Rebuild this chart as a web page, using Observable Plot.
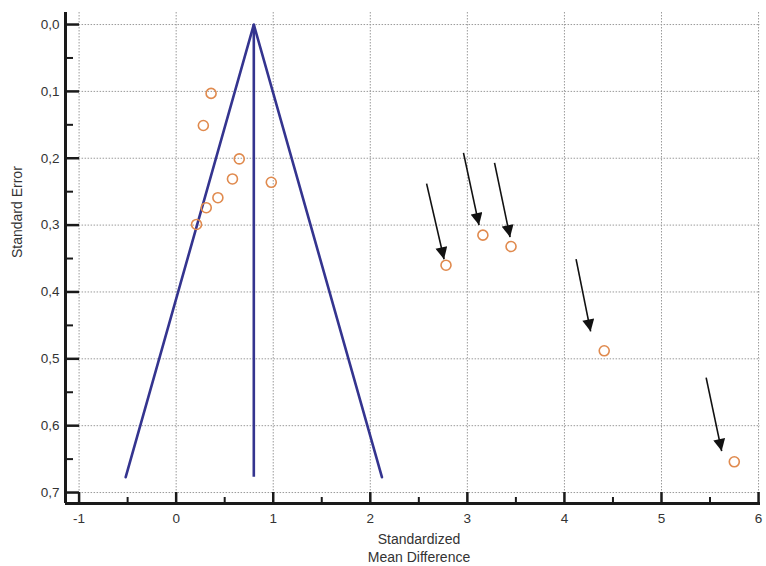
<!DOCTYPE html>
<html><head><meta charset="utf-8">
<script src="https://cdn.jsdelivr.net/npm/d3@7"></script>
<script src="https://cdn.jsdelivr.net/npm/@observablehq/plot@0.6"></script>
<style>body{margin:0;background:#fff;font-family:"Liberation Sans",Arial,sans-serif}</style>
</head><body><div id="chart"></div>
<script>
// Study estimates (standardized mean difference, standard error)
const studySMD = [0.36, 0.28, 0.65, 0.58, 0.98, 0.43, 0.31, 0.21, 2.78, 3.16, 3.45, 4.41, 5.75];
const studySE  = [0.103, 0.151, 0.201, 0.231, 0.236, 0.259, 0.274, 0.299, 0.360, 0.315, 0.332, 0.488, 0.654];

// Funnel (pseudo 95% limits) vertices and pooled estimate
const funnelX = [-0.52, 0.80, 2.12];
const funnelY = [0.677, 0, 0.677];
const pooledX = 0.80;
const pooledMaxSE = 0.677;

// Arrows pointing to outlier studies
const arrowX1 = [2.58, 2.96, 3.28, 4.12, 5.46];
const arrowY1 = [0.238, 0.192, 0.207, 0.351, 0.528];
const arrowX2 = [2.76, 3.12, 3.44, 4.27, 5.62];
const arrowY2 = [0.351, 0.300, 0.318, 0.459, 0.638];

// Axes
const xDomain = [-1.14, 6.02];
const yDomain = [-0.018, 0.7164];
const xTicks = [-1, 0, 1, 2, 3, 4, 5, 6];
const xMinor = [-0.5, 0.5, 1.5, 2.5, 3.5, 4.5, 5.5];
const yTicks = [0, 0.1, 0.2, 0.3, 0.4, 0.5, 0.6, 0.7];
const yMinor = [0.05, 0.15, 0.25, 0.35, 0.45, 0.55, 0.65];
const xLabel = "Standardized\nMean Difference";
const yLabel = "Standard Error";

const studies = studySMD.map((x, i) => ({x, y: studySE[i]}));
const funnel = funnelX.map((x, i) => ({x, y: funnelY[i]}));
const arrows = arrowX1.map((x1, i) => ({x1, y1: arrowY1[i], x2: arrowX2[i], y2: arrowY2[i]}));

const xPerPx = (xDomain[1] - xDomain[0]) / 695;
const yPerPx = (yDomain[1] - yDomain[0]) / 491;

const chart = Plot.plot({
  width: 766,
  height: 566,
  marginLeft: 65,
  marginRight: 6,
  marginTop: 12,
  marginBottom: 63,
  style: {fontFamily: "'Liberation Sans', Arial, sans-serif", fontSize: "13.5px", color: "#333", background: "#fff"},
  x: {domain: xDomain, ticks: xTicks, tickSize: 0, tickPadding: 10, tickFormat: d => String(d), label: null},
  y: {domain: yDomain, reverse: true, ticks: yTicks, tickSize: 0, tickPadding: 6, tickFormat: d => d.toFixed(1).replace(".", ","), label: null},
  marks: [
    // grid
    Plot.ruleX(xTicks, {x: d => d, y1: yDomain[0], y2: yTicks[yTicks.length - 1], stroke: "#9a9a9a", strokeDasharray: "1.5,1.5", strokeWidth: 1}),
    Plot.ruleY(yTicks, {y: d => d, x1: xTicks[0], x2: xDomain[1], stroke: "#9a9a9a", strokeDasharray: "1.5,1.5", strokeWidth: 1}),
    // axis lines
    Plot.ruleX([xDomain[0]], {stroke: "#1a1a1a", strokeWidth: 3}),
    Plot.ruleY([yDomain[1]], {stroke: "#1a1a1a", strokeWidth: 3}),
    // inward ticks
    Plot.ruleY(yTicks, {y: d => d, x1: xDomain[0], x2: xDomain[0] + 14 * xPerPx, stroke: "#1a1a1a", strokeWidth: 2.5}),
    Plot.ruleY(yMinor, {y: d => d, x1: xDomain[0], x2: xDomain[0] + 8 * xPerPx, stroke: "#1a1a1a", strokeWidth: 2}),
    Plot.ruleX(xTicks, {x: d => d, y1: yDomain[1], y2: yDomain[1] - 11 * yPerPx, stroke: "#1a1a1a", strokeWidth: 2.5}),
    Plot.ruleX(xMinor, {x: d => d, y1: yDomain[1], y2: yDomain[1] - 6 * yPerPx, stroke: "#1a1a1a", strokeWidth: 2}),
    // funnel
    Plot.line(funnel, {x: "x", y: "y", stroke: "#34348f", strokeWidth: 2.6}),
    Plot.ruleX([pooledX], {x: d => d, y1: 0, y2: pooledMaxSE, stroke: "#34348f", strokeWidth: 2.6}),
    // studies
    Plot.dot(studies, {x: "x", y: "y", r: 5, stroke: "#e08a4e", strokeWidth: 1.6, fill: "none"}),
    // arrows
    Plot.link(arrows, {x1: "x1", y1: "y1", x2: "x2", y2: "y2", stroke: "#111", strokeWidth: 1.6}),
    // axis labels
    Plot.text([xLabel], {text: d => d, frameAnchor: "bottom", dx: 6, dy: 44, lineAnchor: "middle", fontSize: 14, fill: "#333", lineHeight: 1.25}),
    Plot.text([yLabel], {text: d => d, frameAnchor: "left", dx: -48, rotate: -90, fontSize: 14, fill: "#333"})
  ]
});

// filled triangular arrowheads
const ns = "http://www.w3.org/2000/svg";
const defs = document.createElementNS(ns, "defs");
const marker = document.createElementNS(ns, "marker");
marker.setAttribute("id", "tri-head");
marker.setAttribute("viewBox", "0 0 10 10");
marker.setAttribute("refX", "10");
marker.setAttribute("refY", "5");
marker.setAttribute("markerWidth", "14");
marker.setAttribute("markerHeight", "12");
marker.setAttribute("markerUnits", "userSpaceOnUse");
marker.setAttribute("orient", "auto");
const mp = document.createElementNS(ns, "path");
mp.setAttribute("d", "M0,0L10,5L0,10Z");
mp.setAttribute("fill", "#111");
marker.appendChild(mp);
defs.appendChild(marker);
const svg = chart.tagName.toLowerCase() === "svg" ? chart : chart.querySelector("svg");
svg.insertBefore(defs, svg.firstChild);
svg.querySelectorAll('g[aria-label="link"] path').forEach(p => p.setAttribute("marker-end", "url(#tri-head)"));

document.getElementById("chart").appendChild(chart);
</script>
</body></html>
